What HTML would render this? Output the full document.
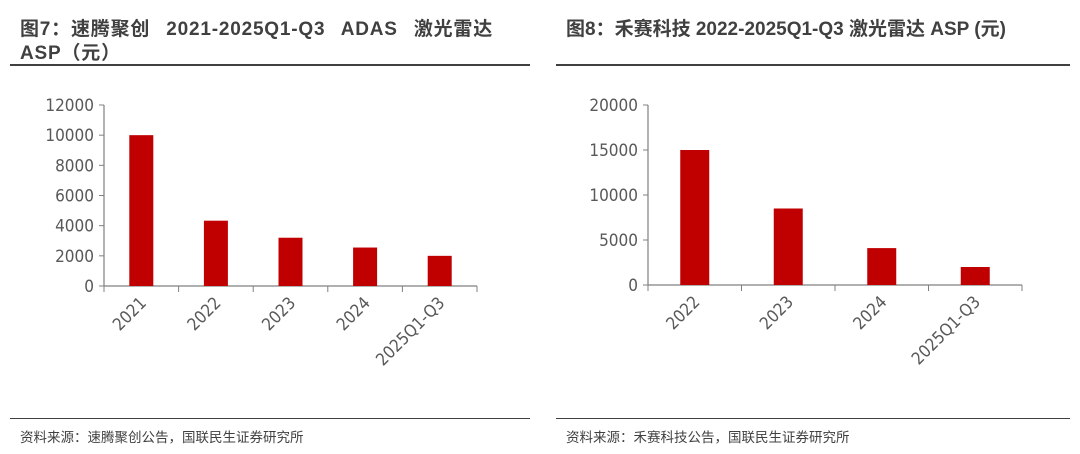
<!DOCTYPE html>
<html><head><meta charset="utf-8"><style>
body{margin:0;width:1080px;height:454px;background:#fff;overflow:hidden;font-family:"Liberation Sans","Noto Sans CJK SC",sans-serif}
.t{position:absolute;font-weight:bold;font-size:19px;color:#404040;line-height:24px}
.ln{position:absolute;height:2px;background:#404040}
.fl{position:absolute;height:1px;background:#404040}
.src{position:absolute;font-size:13.5px;color:#404040}
</style></head><body>
<div class="t" style="left:20px;top:18px;width:520px;word-spacing:10px;letter-spacing:0.8px;white-space:nowrap">图7：速腾聚创 2021-2025Q1-Q3 ADAS 激光雷达<br>ASP（元）</div>
<div class="ln" style="left:10px;top:64px;width:520px"></div>
<div class="t" style="left:566px;top:18px;width:510px">图8：禾赛科技 2022-2025Q1-Q3 激光雷达 ASP (元)</div>
<div class="ln" style="left:556px;top:64px;width:514px"></div>
<div class="fl" style="left:10px;top:418px;width:520px"></div>
<div class="fl" style="left:556px;top:418px;width:514px"></div>
<div class="src" style="left:20px;top:426px">资料来源：速腾聚创公告，国联民生证券研究所</div>
<div class="src" style="left:566px;top:426px">资料来源：禾赛科技公告，国联民生证券研究所</div>
<svg id="s" width="1080" height="454" style="position:absolute;left:0;top:0"></svg>
<script>
const leftCats=["2021","2022","2023","2024","2025Q1-Q3"];
const leftVals=[10000,4330,3200,2550,2000];
const leftTicks=[0,2000,4000,6000,8000,10000,12000];
const rightCats=["2022","2023","2024","2025Q1-Q3"];
const rightVals=[15000,8500,4100,2000];
const rightTicks=[0,5000,10000,15000,20000];
const NS="http://www.w3.org/2000/svg",svg=document.getElementById('s');
function mk(t,a){const e=document.createElementNS(NS,t);for(const k in a)e.setAttribute(k,a[k]);svg.appendChild(e);return e;}
function chart(p,cats,vals,ticks,x0,x1,y0,y1,bw){
 const max=ticks[ticks.length-1];const y=v=>y0-(v/max)*(y0-y1);const cw=(x1-x0)/cats.length;
 let e=mk('line',{x1:x0,x2:x0,y1:y1,y2:y0,stroke:'#808080','stroke-width':1.2});
 
 e=mk('line',{x1:x0,x2:x1,y1:y0,y2:y0,stroke:'#808080','stroke-width':1.2});
 
 ticks.forEach(t=>{const yy=y(t);
  e=mk('line',{x1:x0-5,x2:x0,y1:yy,y2:yy,stroke:'#808080'});
  
  e=mk('text',{x:x0-10,y:yy+6,'text-anchor':'end','font-size':17,fill:'#595959','font-family':'DejaVu Sans Condensed,Liberation Sans,sans-serif'});e.textContent=t;
  });
 for(let i=0;i<=cats.length;i++){const xx=x0+i*cw;
  e=mk('line',{x1:xx,x2:xx,y1:y0,y2:y0+6,stroke:'#808080'});
  }
 cats.forEach((c,i)=>{const cx=x0+(i+0.5)*cw;
  e=mk('rect',{x:cx-bw/2,y:y(vals[i]),width:bw,height:y0-y(vals[i]),fill:'#c00000'});
  
  e=mk('text',{x:cx+6,y:y0+18,'text-anchor':'end','font-size':17,fill:'#595959','font-family':'DejaVu Sans Condensed,Liberation Sans,sans-serif',transform:`rotate(-45 ${cx+6} ${y0+18})`});e.textContent=c;
  });
}
chart('left',leftCats,leftVals,leftTicks,104,477,286,105,24);
chart('right',rightCats,rightVals,rightTicks,648,1022,285,105,29);
</script>
</body></html>
